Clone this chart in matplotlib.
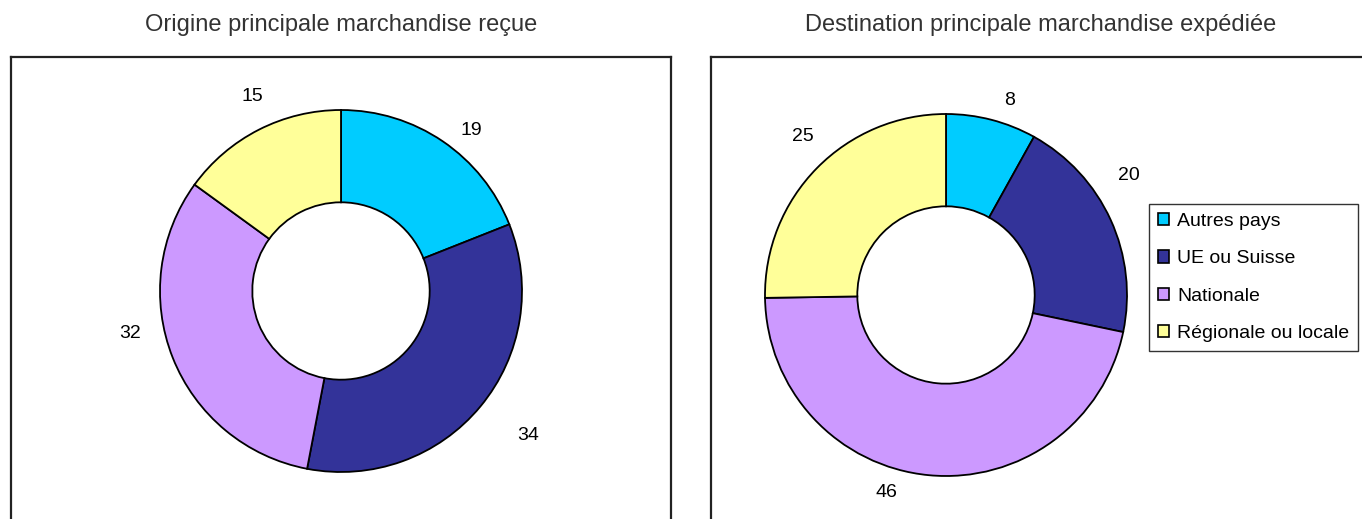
"""Two donut charts: origin and destination of goods"""

import numpy as np
import matplotlib

matplotlib.use("agg")
import matplotlib.pyplot as plt
from matplotlib.patches import Patch

categories = ["Autres pays", "UE ou Suisse", "Nationale", "Régionale ou locale"]
recue = [19, 34, 32, 15]
expediee = [8, 20, 46, 25]
titles = [
    "Origine principale marchandise reçue",
    "Destination principale marchandise expédiée",
]
colors = ["#00CCFF", "#333399", "#CC99FF", "#FFFF99"]

# label placement (radius in units of outer radius, angle shift in degrees)
label_r_l = [1.14, 1.31, 1.19, 1.18]
label_da_l = [-4.9, 1.9, -10.1, -2.5]
label_r_r = [1.13, 1.21, 1.14, 1.18]
label_da_r = [-3.6, 8.6, -11.4, -3.2]

plt.rcParams["font.family"] = ["Liberation Sans", "DejaVu Sans"]

W, H = 1362, 519
fig = plt.figure(figsize=(W / 100, H / 100), dpi=100)


def px_axes(x0, y0, x1, y1):
    """Axes from pixel box (top-left origin)."""
    return fig.add_axes([x0 / W, (H - y1) / H, (x1 - x0) / W, (y1 - y0) / H])


def donut(ax, values, box, center, radius, label_r, label_da):
    x0, y0, x1, y1 = box
    cx, cy = center
    wedges, _ = ax.pie(
        values,
        colors=colors,
        startangle=90,
        counterclock=False,
        radius=1.0,
        wedgeprops=dict(width=0.51, edgecolor="black", linewidth=1.3),
    )
    for w, v, r, da in zip(wedges, values, label_r, label_da):
        ang = np.deg2rad((w.theta1 + w.theta2) / 2 + da)
        ax.text(r * np.cos(ang), r * np.sin(ang), str(v),
                ha="center", va="center", fontsize=14)
    ax.set_aspect("auto")
    ax.set_xlim((x0 - cx) / radius, (x1 - cx) / radius)
    ax.set_ylim((cy - y1) / radius, (cy - y0) / radius)
    ax.set_xticks([])
    ax.set_yticks([])
    ax.set_frame_on(True)
    for s in ax.spines.values():
        s.set_linewidth(1.6)
        s.set_color("#222222")


box_l = (11, 57, 671, 545)
ax1 = px_axes(*box_l)
donut(ax1, recue, box_l, (341, 291), 181, label_r_l, label_da_l)

box_r = (711, 57, 1380, 545)
ax2 = px_axes(*box_r)
donut(ax2, expediee, box_r, (946, 295), 181, label_r_r, label_da_r)

for x, t in zip([341, 1041], titles):
    fig.text(x / W, 1 - 25 / H, t, ha="center", va="center",
             fontsize=17, color="#333333")

handles = [Patch(facecolor=c, edgecolor="black", linewidth=1.2) for c in colors]
leg = fig.legend(
    handles,
    categories,
    loc="upper left",
    bbox_to_anchor=(1149 / W, 1 - 204 / H),
    fontsize=14,
    frameon=True,
    fancybox=False,
    handlelength=0.6,
    handleheight=0.6,
    handletextpad=0.4,
    labelspacing=1.05,
    borderpad=0.45,
    borderaxespad=0,
)
leg.get_frame().set_edgecolor("black")
leg.get_frame().set_linewidth(1.0)

fig.savefig("out.png", dpi=100)
